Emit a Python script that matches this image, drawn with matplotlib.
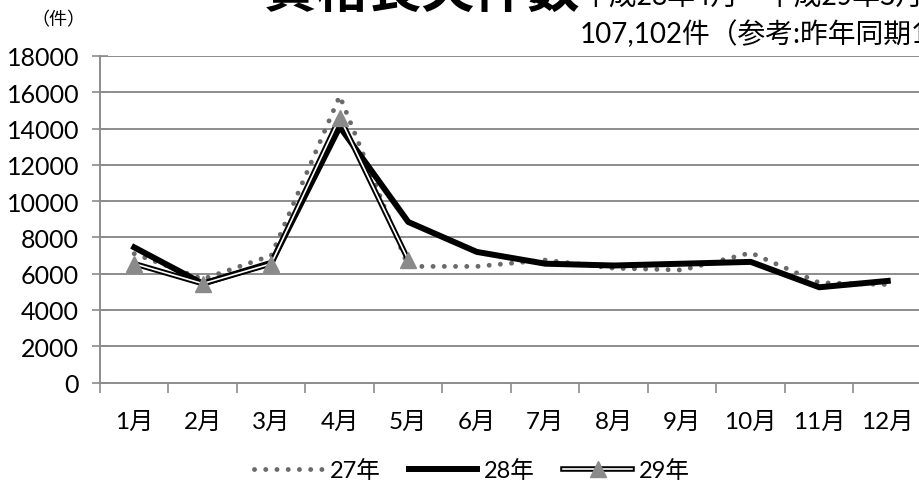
import matplotlib
matplotlib.use("Agg")
import matplotlib.pyplot as plt
from matplotlib.lines import Line2D
from matplotlib.legend_handler import HandlerTuple

plt.rcParams['font.family'] = ['Lato', 'Noto Sans CJK JP', 'DejaVu Sans']

months = ["1月", "2月", "3月", "4月", "5月", "6月", "7月", "8月", "9月", "10月", "11月", "12月"]
y27 = [7100, 5700, 7000, 15800, 6400, 6400, 6750, 6300, 6200, 7150, 5500, 5400]
y28 = [7450, 5450, 6600, 14100, 8850, 7200, 6550, 6450, 6550, 6650, 5250, 5600]
y29 = [6550, 5450, 6550, 14600, 6750]
yticks = list(range(0, 18001, 2000))

W, H = 920, 485
fig = plt.figure(figsize=(W / 100, H / 100), dpi=100)
L, R, B, T = 100, 922, 383.5, 57
ax = fig.add_axes([L / W, 1 - B / H, (R - L) / W, (B - T) / H])

x = list(range(len(months)))
ax.set_xlim(-0.5, 11.5)
ax.set_ylim(0, 18000)

grid_c = '#8c8c8c'
for v in yticks[1:]:
    ax.axhline(v, color=grid_c, lw=1.4, zorder=1)

dot_style = (0, (0.01, 2.3))
ax.plot(x, y27, linestyle=dot_style, dash_capstyle='round', color='#6a6a6a', lw=3.5, zorder=3)
ax.plot(x, y28, color='black', lw=4.3, zorder=4)
x29 = x[:len(y29)]
ax.plot(x29, y29, color='black', lw=4.0, zorder=5)
ax.plot(x29, y29, color='white', lw=1.2, zorder=6)
ax.plot(x29, y29, linestyle='none', marker='^', ms=11, color='#8a8a8a', zorder=7)

for s in ['top', 'right']:
    ax.spines[s].set_visible(False)
for s in ['left', 'bottom']:
    ax.spines[s].set_color(grid_c)
    ax.spines[s].set_linewidth(1.4)

ax.set_yticks(yticks)
ax.set_yticklabels([str(v) for v in yticks], fontsize=18)
ax.tick_params(axis='y', direction='inout', length=12, width=1.2, color=grid_c, pad=9)
ax.set_xticks([i + 0.5 for i in range(-1, 12)], minor=False)
ax.set_xticklabels([])
ax.tick_params(axis='x', which='major', direction='out', length=7, width=1.2, color=grid_c)
ax.set_xticks(x, minor=True)
ax.set_xticklabels(months, minor=True, fontsize=17.5)
ax.tick_params(axis='x', which='minor', length=0, pad=20)

fig.text(31 / W, 1 - 20 / H, "（件）", fontsize=13, ha='left', va='center',
         family=['Noto Sans CJK JP'])

fig.text(263 / W, 1 - (-9) / H, "資格喪失件数", fontsize=38, fontweight='bold',
         ha='left', va='center', family=['Noto Sans CJK JP'])
fig.text(582 / W, 1 - (-2) / H, "平成28年4月～平成29年3月", fontsize=20,
         ha='left', va='center', family=['Noto Sans CJK JP'])
fig.text(580 / W, 1 - 34 / H, "107,102件（参考:昨年同期1", fontsize=20, ha='left', va='center',
         family=['Lato', 'Noto Sans CJK JP'])

h27 = Line2D([], [], linestyle=dot_style, dash_capstyle='round', color='#6a6a6a', lw=3.5)
h28 = Line2D([], [], color='black', lw=4.3)
h29a = Line2D([], [], color='black', lw=4.0)
h29b = Line2D([], [], color='white', lw=1.2)
h29c = Line2D([], [], linestyle='none', marker='^', ms=11, color='#8a8a8a')
fig.legend([h27, h28, (h29a, h29b, h29c)], ["27年", "28年", "29年"],
           handler_map={tuple: HandlerTuple(ndivide=1)},
           loc='center', bbox_to_anchor=(472 / W, 1 - 471 / H), ncol=3, frameon=False,
           handlelength=2.9, columnspacing=1.2, handletextpad=0.3,
           prop={'family': ['Lato', 'Noto Sans CJK JP'], 'size': 17})

fig.savefig("out.png", dpi=100)
